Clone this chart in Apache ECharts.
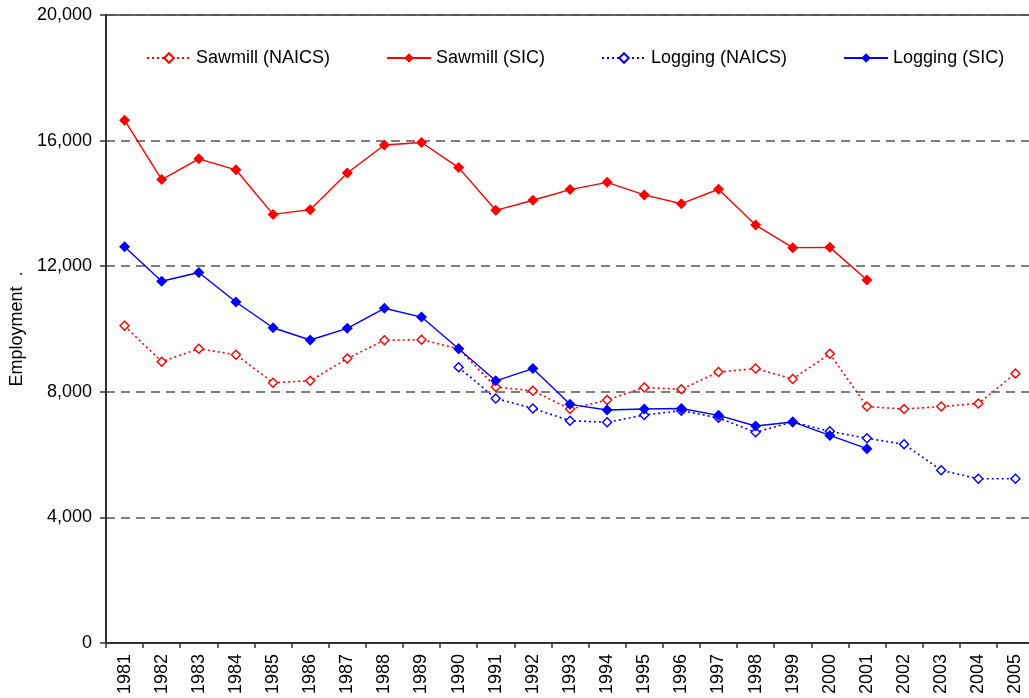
<!DOCTYPE html>
<html>
<head>
<meta charset="utf-8">
<title>Employment</title>
<script src="https://cdn.jsdelivr.net/npm/echarts@6/dist/echarts.min.js"></script>
<style>
    html, body { margin: 0; padding: 0; background: #fff; }
    #chart { width: 1029px; height: 698px; }
</style>
</head>
<body>
<div id="chart"></div>
<script>
// data
var years = ['1981', '1982', '1983', '1984', '1985', '1986', '1987', '1988', '1989', '1990',
    '1991', '1992', '1993', '1994', '1995', '1996', '1997', '1998', '1999', '2000',
    '2001', '2002', '2003', '2004', '2005'];

var sawmillNaics = [10100, 8960, 9370, 9180, 8290, 8350, 9060, 9640, 9660, 9370,
    8150, 8030, 7450, 7740, 8140, 8080, 8630, 8740, 8410, 9210,
    7530, 7450, 7530, 7630, 8580];

var sawmillSic = [16650, 14760, 15420, 15070, 13650, 13800, 14970, 15860, 15940, 15140,
    13780, 14100, 14440, 14670, 14270, 13990, 14450, 13310, 12590, 12600,
    11560, '-', '-', '-', '-'];

var loggingNaics = ['-', '-', '-', '-', '-', '-', '-', '-', '-', 8780,
    7790, 7470, 7080, 7030, 7260, 7400, 7170, 6710, 7040, 6740,
    6520, 6330, 5500, 5230, 5230];

var loggingSic = [12620, 11520, 11800, 10860, 10040, 9650, 10020, 10660, 10380, 9370,
    8350, 8740, 7600, 7420, 7450, 7470, 7250, 6910, 7040, 6610,
    6190, '-', '-', '-', '-'];

var yTicks = { min: 0, max: 20000, step: 4000 };

var RED = '#ff0000',
    BLUE = '#0000ff',
    FONT = 'Liberation Sans, Arial, sans-serif';

// NAICS = dotted line, hollow diamond; SIC = solid line, filled diamond
function makeSeries(name, data, color, naics) {
    return {
        name: name,
        type: 'line',
        data: data,
        symbol: 'diamond',
        symbolSize: naics ? 9 : 11,
        showAllSymbol: true,
        connectNulls: false,
        animation: false,
        lineStyle: {
            color: color,
            width: naics ? 1.6 : 1.4,
            type: naics ? [2, 3] : 'solid'
        },
        itemStyle: {
            color: naics ? '#fff' : color,
            borderColor: color,
            borderWidth: naics ? 1.4 : 0
        }
    };
}

var myChart = echarts.init(document.getElementById('chart'), null, { renderer: 'canvas' });

var option = {
    backgroundColor: '#fff',
    textStyle: { fontFamily: FONT },
    // plot runs a few px past the right edge of the picture
    grid: {
        left: 106,
        top: 15,
        width: 928,
        bottom: 55,
        outerBoundsMode: 'none',
        show: true,
        borderColor: '#333',
        borderWidth: 1.5
    },
    legend: {
        top: 44,
        left: 141,
        itemWidth: 44,
        itemHeight: 12,
        itemGap: 56,
        textStyle: { fontSize: 18, color: '#000', fontFamily: FONT },
        data: ['Sawmill (NAICS)', 'Sawmill (SIC)', 'Logging (NAICS)', 'Logging (SIC)']
    },
    xAxis: {
        type: 'category',
        data: years,
        boundaryGap: true,
        axisLine: { lineStyle: { color: '#333', width: 2 } },
        axisTick: { show: true, length: 5, lineStyle: { color: '#333', width: 1.5 } },
        axisLabel: {
            rotate: 90,
            interval: 0,
            margin: 11,
            fontSize: 18,
            color: '#000',
            fontFamily: FONT
        },
        splitLine: { show: false }
    },
    yAxis: {
        type: 'value',
        min: yTicks.min,
        max: yTicks.max,
        interval: yTicks.step,
        name: 'Employment  .',
        nameLocation: 'middle',
        nameRotate: 90,
        nameGap: 77,
        nameTextStyle: { fontSize: 18, color: '#000', fontFamily: FONT },
        axisLine: { show: true, lineStyle: { color: '#333', width: 2 } },
        axisTick: { show: true, length: 6, lineStyle: { color: '#333', width: 1.5 } },
        axisLabel: {
            margin: 14,
            fontSize: 18,
            color: '#000',
            fontFamily: FONT,
            formatter: function(v) {
                return v.toLocaleString('en-US');
            }
        },
        splitLine: {
            show: true,
            lineStyle: { color: '#555', width: 1.5, type: [9, 6] }
        }
    },
    series: [
        makeSeries('Sawmill (NAICS)', sawmillNaics, RED, true),
        makeSeries('Sawmill (SIC)', sawmillSic, RED, false),
        makeSeries('Logging (NAICS)', loggingNaics, BLUE, true),
        makeSeries('Logging (SIC)', loggingSic, BLUE, false)
    ]
};

myChart.setOption(option);
</script>
</body>
</html>
